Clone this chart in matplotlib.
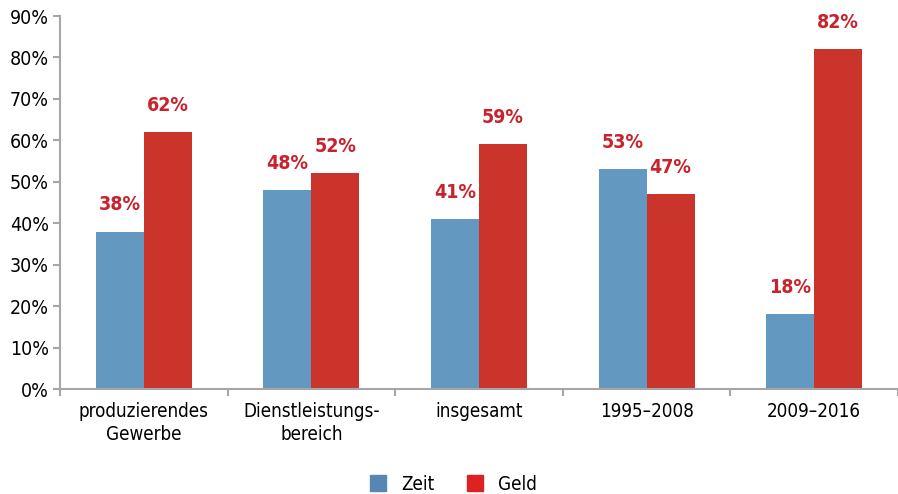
import matplotlib
matplotlib.use("Agg")
import matplotlib.pyplot as plt
from matplotlib import font_manager
import numpy as np
from matplotlib.patches import Rectangle

names = {f.name for f in font_manager.fontManager.ttflist}
fam = "Liberation Sans Narrow" if "Liberation Sans Narrow" in names else "DejaVu Sans"
plt.rcParams['font.family'] = [fam, 'DejaVu Sans']
plt.rcParams['font.stretch'] = 'condensed'

categories = ["produzierendes\nGewerbe", "Dienstleistungs-\nbereich", "insgesamt", "1995–2008", "2009–2016"]
zeit = [38, 48, 41, 53, 18]
geld = [62, 52, 59, 47, 82]
yticks = [0, 10, 20, 30, 40, 50, 60, 70, 80, 90]

blue = "#6399c1"
red = "#cb342b"
label_red = "#c8232c"
axis_gray = "#a6a6a6"

fig = plt.figure(figsize=(8.98, 4.94), dpi=100)
ax = fig.add_axes([60/898, 1-389/494, 838/898, (389-16)/494])

x = np.arange(len(categories))
w = 0.286
ax.bar(x - w/2, zeit, w, color=blue, label="Zeit", zorder=2)
ax.bar(x + w/2, geld, w, color=red, label="Geld", zorder=2)

for xi, v in zip(x - w/2, zeit):
    ax.text(xi, v + 6.5, f"{v}%", ha="center", va="center", color=label_red,
            fontsize=14, fontweight="bold")
for xi, v in zip(x + w/2, geld):
    ax.text(xi, v + 6.5, f"{v}%", ha="center", va="center", color=label_red,
            fontsize=14, fontweight="bold")

ax.set_xlim(-0.5, len(categories) - 0.5)
ax.set_ylim(0, 90)
ax.set_yticks(yticks)
ax.set_yticklabels([f"{t}%" for t in yticks], fontsize=14)
ax.set_xticks(np.arange(len(categories) + 1) - 0.5)
ax.set_xticklabels([])
ax.set_xticks(x, minor=True)
ax.set_xticklabels(categories, minor=True, fontsize=13.5, linespacing=1.3)
ax.tick_params(axis='x', which='minor', length=0, pad=9)
ax.tick_params(axis='x', which='major', length=5, color=axis_gray, width=1.5)
ax.tick_params(axis='y', length=5, color=axis_gray, width=1.5, pad=3)

for s in ["top", "right"]:
    ax.spines[s].set_visible(False)
for s in ["left", "bottom"]:
    ax.spines[s].set_color(axis_gray)
    ax.spines[s].set_linewidth(1.5)

handles = [Rectangle((0, 0), 1, 1, color="#5686b4"), Rectangle((0, 0), 1, 1, color="#dd2222")]
fig.legend(handles, ["Zeit", "Geld"], loc="center", bbox_to_anchor=(0.505, 1 - 484/494),
           ncol=2, frameon=False, fontsize=13.5, handlelength=0.9, handleheight=0.9,
           columnspacing=1.7, handletextpad=0.8, borderpad=0.1)

fig.savefig("out.png", dpi=100)
